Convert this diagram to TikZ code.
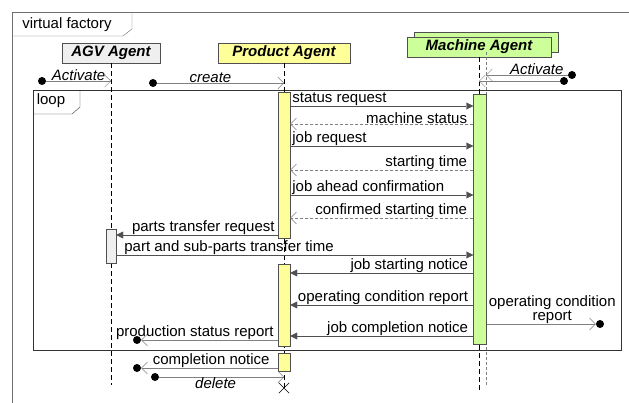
\documentclass[tikz,border=0pt]{standalone}
\usepackage{fontspec}
\setmainfont{Liberation Sans}
\usetikzlibrary{arrows.meta,positioning,shapes.misc}
\definecolor{agvgray}{HTML}{EFEFEF}
\definecolor{prodyellow}{HTML}{FFFF99}
\definecolor{machgreen}{HTML}{CCFF99}
\definecolor{framegray}{HTML}{707070}
\definecolor{linegray}{HTML}{505050}
\tikzset{
	agent/.style={draw=linegray, font=\bfseries\itshape, minimum height=20pt, inner sep=0pt},
	lifeline/.style={draw=black, dash pattern=on 5pt off 3pt},
	actbar/.style={draw=linegray, minimum width=12pt, inner sep=0pt, anchor=north},
	call/.style={draw=linegray, -{Triangle[length=7pt,width=7pt]}},
	reply/.style={draw=gray, dash pattern=on 3pt off 2pt, -{Straight Barb[length=6pt,width=12pt]}},
	async/.style={draw=gray, -{Straight Barb[length=6pt,width=12pt]}},
	enddot/.style={circle, fill=black, inner sep=0pt, minimum size=8pt},
	msgtext/.style={inner xsep=2pt, inner ysep=0.5pt}
}
\begin{document}
\fontsize{15}{17}\selectfont
\begin{tikzpicture}[x=1pt,y=-1pt]
	\useasboundingbox (0,0) rectangle (629,403);
	% frames
	\draw[framegray] (12,404) -- (12,12) -- (630,12);
	\draw[framegray] (12,36) -- (123,36) -- (132,29) -- (132,12);
	\node[inner sep=0pt] (vf) at (67,25) {virtual factory};
	\draw[black!80] (33,90) rectangle (621,350);
	\draw[black!80] (33,114) -- (72,114) -- (80,107) -- (80,90);
	\node[inner sep=0pt] (lp) at (51,101) {loop};

	% agents
	\node[agent, fill=agvgray, minimum width=98pt] (agv) at (111,53) {AGV Agent};
	\node[agent, fill=prodyellow, minimum width=132pt] (prod) at (284,53) {Product Agent};
	\node[agent, fill=machgreen, minimum width=144pt] (machB) at (486,42) {};
	\node[agent, fill=machgreen, minimum width=144pt] (mach) at (479,47) {Machine Agent};

	% lifelines
	\node[draw, cross out, minimum size=10pt, inner sep=0pt] (kill) at (284,388) {};
	\coordinate (agvEnd) at (111,385);
	\coordinate (machEnd) at (479,392);
	\coordinate (machBEnd) at (486,385);
	\draw[lifeline] (agv.south) -- (agvEnd);
	\draw[lifeline] (prod.south) -- (kill.center);
	\draw[lifeline] (mach.south) -- (machEnd);
	\draw[gray, densely dashed] (machB.south) -- (machBEnd);

	% activation bars
	\node[actbar, fill=prodyellow, minimum height=146pt] (pbarA) at (284,92) {};
	\node[actbar, fill=prodyellow, minimum height=82pt] (pbarB) at (284,264) {};
	\node[actbar, fill=prodyellow, minimum height=18pt] (pbarC) at (284,353) {};
	\node[actbar, fill=agvgray, minimum width=10pt, minimum height=34pt] (abar) at (111,229) {};
	\node[actbar, fill=machgreen, minimum width=13pt, minimum height=250pt] (mbar) at (480,94) {};

	% activation
	\node[enddot] (actAgv) at (42,81) {};
	\node[enddot] (actProd) at (153,83) {};
	\node[enddot] (actMachB) at (572,75) {};
	\node[enddot] (actMach) at (564,81) {};
	\draw[async] (actAgv) -- (agv.south |- actAgv) node[midway, above, msgtext, font=\itshape] {Activate};
	\draw[async] (actProd) -- (prod.south |- actProd) node[pos=0.42, above, msgtext, font=\itshape] {create};
	\draw[async] (actMachB) -- (machB.south |- actMachB) node[pos=0.38, above, msgtext, font=\itshape] {Activate};
	\draw[async] (actMach) -- (mach.south |- actMach);

	% requests and replies
	\foreach \y/\txt in {106/status request, 146/job request, 195/job ahead confirmation}
		\draw[call] (pbarA.east |- 0,\y) -- (mbar.west |- 0,\y) node[pos=0, anchor=south west, msgtext] {\txt};
	\foreach \y/\txt in {124/machine status, 170/starting time, 218/confirmed starting time}
		\draw[reply] (mbar.west |- 0,\y) -- (pbarA.east |- 0,\y) node[pos=0, anchor=south east, msgtext, xshift=-4pt] {\txt};
	\draw[call] (pbarA.west |- 0,235) -- (abar.east |- 0,235) node[pos=0, anchor=south east, msgtext, xshift=-1pt] {parts transfer request};
	\draw[call] (abar.east |- 0,255) -- (mbar.west |- 0,255) node[pos=0, anchor=south west, msgtext, xshift=6pt] {part and sub-parts transfer time};
	\foreach \y/\txt in {273/job starting notice, 305/operating condition report, 336/job completion notice}
		\draw[call] (mbar.west |- 0,\y) -- (pbarB.east |- 0,\y) node[pos=0, anchor=south east, msgtext, xshift=-3pt] {\txt};

	% lost and found messages
	\node[enddot] (lostOp) at (600,324) {};
	\node[enddot] (lostProd) at (137,340) {};
	\node[enddot] (lostDone) at (137,368) {};
	\node[enddot] (delStart) at (155,377) {};
	\draw[async] (mbar.east |- lostOp) -- (lostOp) node[midway, above, msgtext, align=center, xshift=11pt, font=\fontsize{15}{14}\selectfont] {operating condition\\report};
	\draw[async] (pbarB.west |- lostProd) -- (lostProd) node[pos=0, anchor=south east, msgtext, xshift=-2pt] {production status report};
	\draw[async] (pbarC.west |- lostDone) -- (lostDone) node[pos=0, anchor=south east, msgtext, xshift=-6pt] {completion notice};
	\draw[async] (delStart) -- (kill.center |- delStart) node[midway, below, msgtext, font=\itshape, xshift=-6pt] {delete};
\end{tikzpicture}
\end{document}
